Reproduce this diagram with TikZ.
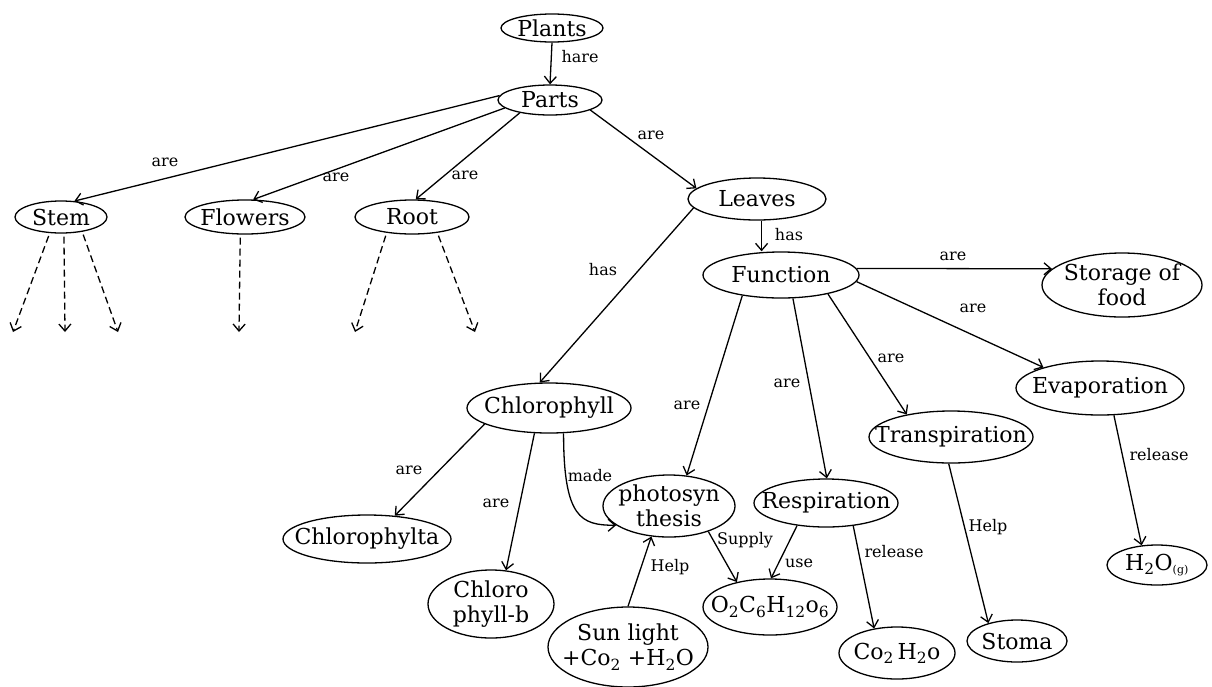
\documentclass[tikz,border=0pt]{standalone}
\usepackage{fontspec}
\setmainfont{DejaVu Serif}
\usetikzlibrary{shapes.geometric,arrows.meta}
\newcommand\ssb[1]{\textsubscript{#1}}
\tikzset{
  ent/.style={draw, ellipse, line width=1.3pt, inner sep=0pt},
  nt/.style={font=\fontsize{22}{25}\selectfont, align=center, inner sep=0pt},
  lab/.style={font=\fontsize{16}{18}\selectfont, inner sep=0pt},
  arr/.style={-{Straight Barb[length=7pt,width=12pt]}, line width=1.3pt},
  darr/.style={arr, dash pattern=on 7pt off 4pt},
}
\begin{document}
\begin{tikzpicture}[x=1pt,y=-1pt]
\useasboundingbox[fill=white] (0,0) rectangle (1212,686);
% nodes
\node[ent, minimum width=102, minimum height=28, label={[nt]center:Plants}] (plants) at (552,28) {};
\node[ent, minimum width=104, minimum height=30, label={[nt]center:Parts}] (parts) at (550,100) {};
\node[ent, minimum width=92, minimum height=32, label={[nt]center:Stem}] (stem) at (61,217) {};
\node[ent, minimum width=120, minimum height=34, label={[nt]center:Flowers}] (flowers) at (245,217) {};
\node[ent, minimum width=114, minimum height=34, label={[nt]center:Root}] (root) at (412,217) {};
\node[ent, minimum width=138, minimum height=42, label={[nt]center:Leaves}] (leaves) at (757,199) {};
\node[ent, minimum width=156, minimum height=46, label={[nt]center:Function}] (function) at (781,275) {};
\node[ent, minimum width=160, minimum height=64, label={[nt]center:{Storage of\\food}}] (storage) at (1122,285) {};
\node[ent, minimum width=168, minimum height=54, label={[nt]center:Evaporation}] (evap) at (1100,388) {};
\node[ent, minimum width=164, minimum height=52, label={[nt]center:Transpiration}] (transp) at (951,437) {};
\node[ent, minimum width=164, minimum height=50, label={[nt]center:Chlorophyll}] (chl) at (549,408) {};
\node[ent, minimum width=168, minimum height=48, label={[nt]center:Chlorophylta}] (chlta) at (367,539) {};
\node[ent, minimum width=126, minimum height=68, label={[nt]center:{Chloro\\phyll-b}}] (chlb) at (491,604) {};
\node[ent, minimum width=132, minimum height=62, label={[nt]center:{photosyn\\thesis}}] (photo) at (669,506) {};
\node[ent, minimum width=144, minimum height=48, label={[nt]center:Respiration}] (resp) at (826,503) {};
\node[ent, minimum width=134, minimum height=56, label={[nt]center:{O\ssb{2}C\ssb{6}H\ssb{12}o\ssb{6}}}] (o2) at (770,607) {};
\node[ent, minimum width=160, minimum height=80, label={[nt]center:{Sun light\\+Co\ssb{2} +H\ssb{2}O}}] (sun) at (628,647) {};
\node[ent, minimum width=116, minimum height=52, label={[nt]center:{Co\ssb{2}\,H\ssb{2}o}}] (co2) at (897,653) {};
\node[ent, minimum width=100, minimum height=42, label={[nt]center:Stoma}] (stoma) at (1017,641) {};
\node[ent, minimum width=100, minimum height=40, label={[nt]center:{H\ssb{2}O\ssb{\fontsize{11}{11}\selectfont(g)}}}] (h2o) at (1157,565) {};
% free ends of dashed arrows
\coordinate (s1) at (13,332);
\coordinate (s2) at (65,332);
\coordinate (s3) at (118,332);
\coordinate (f1) at (239,332);
\coordinate (r1) at (355,332);
\coordinate (r2) at (475,332);
% connectors
\draw[arr] (plants.south) -- (parts.north);
\draw[arr] (parts.175) -- (stem.50);
\draw[arr] (parts.190) -- (flowers.65);
\draw[arr] (parts.203) -- (root.78);
\draw[arr] (parts.-14) -- (leaves.170);
\draw[arr] (leaves.188) -- (chl.110);
\draw[arr] (leaves.-78) -- (leaves.-78 |- function.north);
\draw[arr] (function.5) -- (storage.167);
\draw[arr] (function.-5) -- (evap.160);
\draw[arr] (function.-22) -- (transp.153);
\draw[arr] (function.-63) -- (resp.88);
\draw[arr] (function.208) -- (photo.60);
\draw[arr] (chl.194) -- (chlta.40);
\draw[arr] (chl.240) -- (chlb.66);
\draw[arr] (chl.-60) .. controls +(0,85) and +(-35,0) .. (photo.200);
\draw[arr] (sun.90) -- (photo.240);
\draw[arr] (photo.-33) -- (o2.143);
\draw[arr] (resp.218) -- (o2.88);
\draw[arr] (resp.-40) -- (co2.133);
\draw[arr] (transp.-95) -- (stoma.148);
\draw[arr] (evap.-63) -- (h2o.128);
\draw[darr, shorten <=3pt] (stem.-125) -- (s1);
\draw[darr, shorten <=3pt] (stem.-80) -- (s2);
\draw[darr, shorten <=3pt] (stem.-35) -- (s3);
\draw[darr, shorten <=3pt] (flowers.-105) -- (f1);
\draw[darr, shorten <=3pt] (root.-148) -- (r1);
\draw[darr, shorten <=3pt] (root.-32) -- (r2);
% connector labels
\node[lab] (l1) at (580,57) {hare};
\node[lab] (l2) at (165,162) {are};
\node[lab] (l3) at (336,177) {are};
\node[lab] (l4) at (465,175) {are};
\node[lab] (l5) at (651,135) {are};
\node[lab] (l6) at (603,270) {has};
\node[lab] (l7) at (789,235) {has};
\node[lab] (l8) at (953,256) {are};
\node[lab] (l9) at (973,308) {are};
\node[lab] (l10) at (891,358) {are};
\node[lab] (l11) at (787,383) {are};
\node[lab] (l12) at (687,405) {are};
\node[lab] (l13) at (409,470) {are};
\node[lab] (l14) at (496,503) {are};
\node[lab] (l15) at (590,476) {made};
\node[lab] (l16) at (670,567) {Help};
\node[lab] (l17) at (745,540) {Supply};
\node[lab] (l18) at (799,563) {use};
\node[lab] (l19) at (894,552) {release};
\node[lab] (l20) at (988,527) {Help};
\node[lab] (l21) at (1159,455) {release};
\end{tikzpicture}
\end{document}
